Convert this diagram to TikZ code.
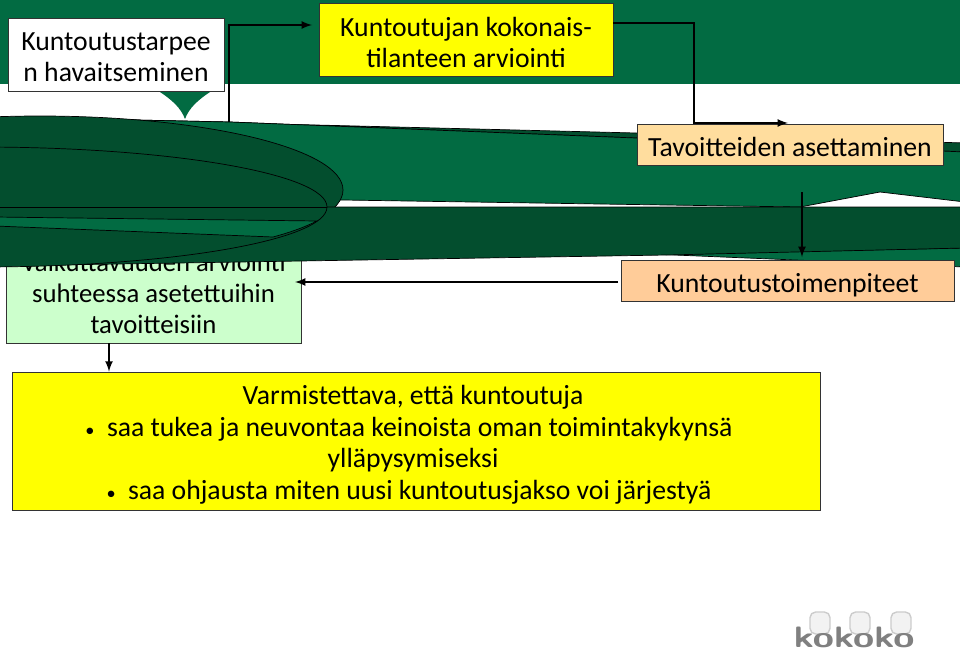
\documentclass[tikz,border=0pt]{standalone}
\usepackage{fontspec}
\setmainfont{Carlito}
\usepackage{xcolor}
\usetikzlibrary{arrows}
\definecolor{bandgreen}{HTML}{026B42}
\definecolor{darkgreen}{HTML}{034E2E}
\definecolor{palegreen}{HTML}{CCFFCC}
\definecolor{paleorange}{HTML}{FFDD9E}
\definecolor{peach}{HTML}{FFCC99}
\definecolor{brightyellow}{HTML}{FFFF00}
\newcommand{\smallbullet}{{\fontsize{13}{13}\selectfont•}\hspace{0.45em}}
\newcommand{\vpush}[1]{\rule{0pt}{#1}}
\tikzset{
  txtbox/.style={draw=black!80,line width=0.6pt,inner sep=0pt,align=center,font=\fontsize{19.7}{22}\selectfont},
  link/.style={line width=1.5pt,black,-latex},
  wave/.style={draw=black,line width=0.5pt}
}
\begin{document}
\begin{tikzpicture}[x=0.025cm,y=-0.025cm]
      \useasboundingbox[fill=white] (0,0) rectangle (960,651);
      \fill[bandgreen] (0,0) rectangle (960,84);
      \fill[bandgreen] (160,92) .. controls (172,100) and (181,108) .. (185,119) .. controls (189,108) and (198,100) .. (210,92) -- cycle;
      \node[txtbox,fill=palegreen,minimum width=295*0.025cm,minimum height=103*0.025cm,font=\fontsize{19}{22}\selectfont] (vaikutus) at (153.5,291.5)
        {\vpush{16pt}Vaikuttavuuden arviointi\\suhteessa asetettuihin\\tavoitteisiin};
      \draw[wave,fill=darkgreen] (-5,117) -- (636,133) -- (965,143) -- (965,152) -- (636,138) -- (230,122) -- cycle;
      \draw[wave,fill=bandgreen] (-5,117) -- (230,122) -- (636,138) -- (965,152) -- (965,202) -- (880,192) -- (800,207) -- (600,204) -- (343,200) -- (-5,200) -- cycle;
      \draw[wave,fill=darkgreen] (40,190) ellipse (303 and 74);
      \draw[wave,fill=bandgreen] (650,254) -- (965,248) -- (965,267) -- cycle;
      \draw[wave,fill=darkgreen] (-5,207) -- (965,207) -- (965,248) -- (667,255) -- (-5,266) -- cycle;
      \draw[wave,fill=darkgreen] (-20,207) ellipse (347 and 60);
      \draw[wave] (-5,207) -- (327,207);
      \draw[wave,fill=bandgreen] (-5,217) -- (317,221) .. controls (303,228) and (288,233) .. (273,237) -- (-5,226) -- cycle;
      \node[txtbox,fill=white,minimum width=216*0.025cm,minimum height=73*0.025cm] (tarve) at (116,54.5)
        {\vpush{17pt}Kuntoutustarpee\\n havaitseminen};
      \node[txtbox,fill=brightyellow,minimum width=294*0.025cm,minimum height=73*0.025cm] (kokonais) at (466,39.5)
        {\vpush{17.5pt}Kuntoutujan kokonais-\\tilanteen arviointi};
      \node[txtbox,fill=paleorange,minimum width=306*0.025cm,minimum height=41*0.025cm] (tavoite) at (790,144.5)
        {\vpush{16.5pt}Tavoitteiden asettaminen};
      \node[txtbox,fill=peach,minimum width=333*0.025cm,minimum height=41*0.025cm] (toimet) at (787.5,280.5)
        {\vpush{20.5pt}Kuntoutustoimenpiteet};
      \node[txtbox,fill=brightyellow,minimum width=808*0.025cm,minimum height=138*0.025cm,font=\fontsize{19.7}{22.7}\selectfont] (varmistus) at (416,441)
        {\hspace*{-0.15cm}\vpush{19pt}Varmistettava, että kuntoutuja\\
        \hspace*{-0.35cm}\smallbullet saa tukea ja neuvontaa keinoista oman toimintakykynsä\\
        \hspace*{-0.15cm}ylläpysymiseksi\\
        \hspace*{-0.35cm}\smallbullet saa ohjausta miten uusi kuntoutusjakso voi järjestyä};
      \coordinate (tarvestart) at (229,122);
      \coordinate (kokonaisin) at (312,25);
      \coordinate (kokonaisout) at (613,23);
      \coordinate (tavoitein) at (788,123);
      \coordinate (toimetstart) at (802,192);
      \coordinate (toimetin) at (802,257);
      \coordinate (toimetout) at (618,282);
      \coordinate (vaikutusin) at (295,282);
      \draw[link] (tarvestart) |- (kokonaisin);
      \draw[link] (kokonaisout) -| (694,123) -- (tavoitein);
      \draw[link] (toimetstart) -- (toimetin);
      \draw[link] (toimetout) -- (vaikutusin);
      \draw[link] (vaikutus.south -| 109,0) -- (varmistus.north -| 109,0);
      \foreach \tower/\xpos in {a/820,b/860,c/901}
        \node[draw=black!20,fill=black!5,line width=1pt,rounded corners=4pt,minimum width=20*0.025cm,minimum height=22*0.025cm,inner sep=0pt] (tower\tower) at (\xpos,623) {};
      \node[inner sep=0pt,text=black!50,font=\fontfamily{lmss}\fontsize{21}{21}\bfseries\selectfont] (logo) at (854,637) {\scalebox{1.3}[1]{kokoko}};
    \end{tikzpicture}
\end{document}
